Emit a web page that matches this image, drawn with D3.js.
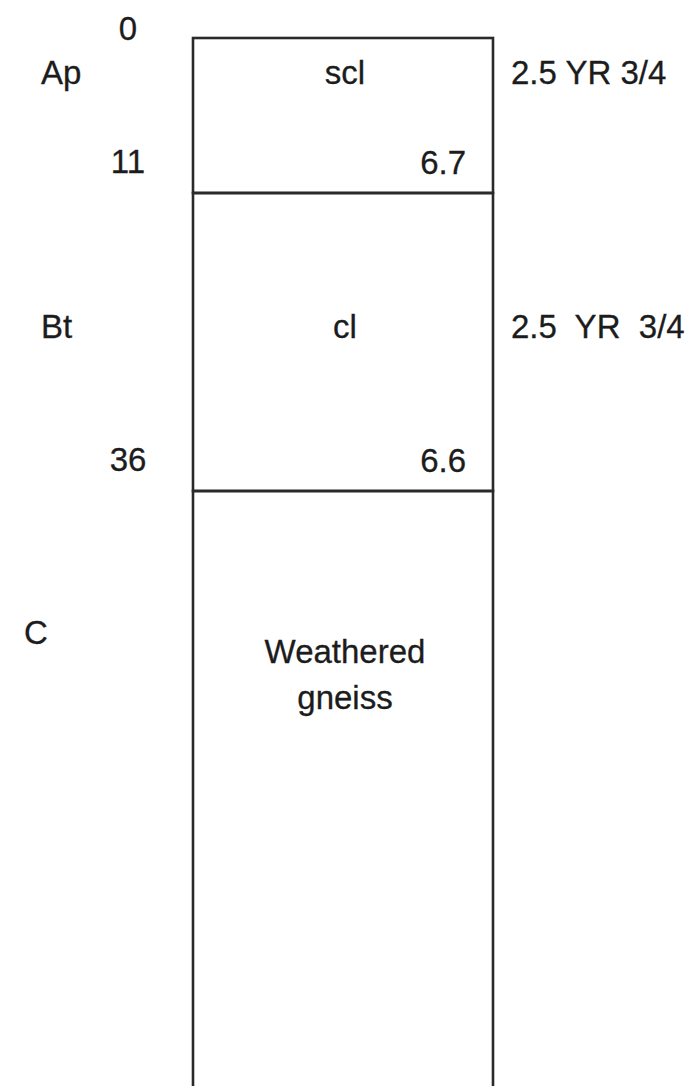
<!DOCTYPE html>
<html>
<head>
<meta charset="utf-8">
<script src="https://cdn.jsdelivr.net/npm/d3@7"></script>
<style>
  body { margin: 0; background: #fff; }
  text { font-family: "Liberation Sans", Arial, sans-serif; fill: #1c1c1c; stroke: #1c1c1c; stroke-width: 0.3px; font-size: 33px; letter-spacing: 0px; }
</style>
</head>
<body>
<svg id="profile" width="691" height="1086"></svg>
<script>
// soil profile data
const horizons = ["Ap", "Bt", "C"];
const depthTop = [0, 11, 36];
const depthBottom = [11, 36, 100];
const textures = [["scl"], ["cl"], ["Weathered", "gneiss"]];
const phValues = ["6.7", "6.6", null];
const colours = ["2.5 YR 3/4", "2.5\u00a0 YR\u00a0 3/4", null];
const depthTicks = [0, 11, 36];

const svg = d3.select("#profile");

// depth scale is drawn piecewise (horizons not to scale)
const y = d3.scaleLinear().domain([0, 11, 36]).range([38, 193, 491]);
const x = d3.scaleLinear().domain([0, 1]).range([193, 493]);

const layers = horizons.map((h, i) => ({
  name: h, top: depthTop[i], bottom: depthBottom[i],
  texture: textures[i], ph: phValues[i], colour: colours[i]
}));

// horizon boxes
svg.selectAll("rect.layer")
  .data(layers)
  .join("rect")
  .attr("class", "layer")
  .attr("x", x(0))
  .attr("y", d => y(d.top))
  .attr("width", x(1) - x(0))
  .attr("height", d => y(d.bottom) - y(d.top))
  .attr("fill", "none")
  .attr("stroke", "#2a2a2a")
  .attr("stroke-width", 2.6);

// depth numbers
svg.selectAll("text.depth")
  .data(depthTicks)
  .join("text")
  .attr("class", "depth")
  .attr("x", 128)
  .attr("y", (d, i) => i === 0 ? 40 : y(d) - 20)
  .attr("text-anchor", "middle")
  .text(d => d);

// label row offset inside each horizon (px below top)
const rowOffset = [46, 145, 153];
const nameX = [41, 41, 24];

svg.selectAll("text.name")
  .data(layers)
  .join("text")
  .attr("class", "name")
  .attr("x", (d, i) => nameX[i])
  .attr("y", (d, i) => y(d.top) + rowOffset[i])
  .text(d => d.name);

layers.forEach((d, i) => {
  d.texture.forEach((t, j) => {
    svg.append("text")
      .attr("x", x(0.5) + 2)
      .attr("y", y(d.top) + rowOffset[i] + (i === 2 ? 19 : 0) + j * 46)
      .attr("text-anchor", "middle")
      .text(t);
  });
  if (d.ph) {
    svg.append("text")
      .attr("x", x(1) - 27)
      .attr("y", y(d.bottom) - 19)
      .attr("text-anchor", "end")
      .text(d.ph);
  }
  if (d.colour) {
    svg.append("text")
      .attr("x", 511)
      .attr("y", y(d.top) + rowOffset[i])
      .text(d.colour);
  }
});
</script>
</body>
</html>
